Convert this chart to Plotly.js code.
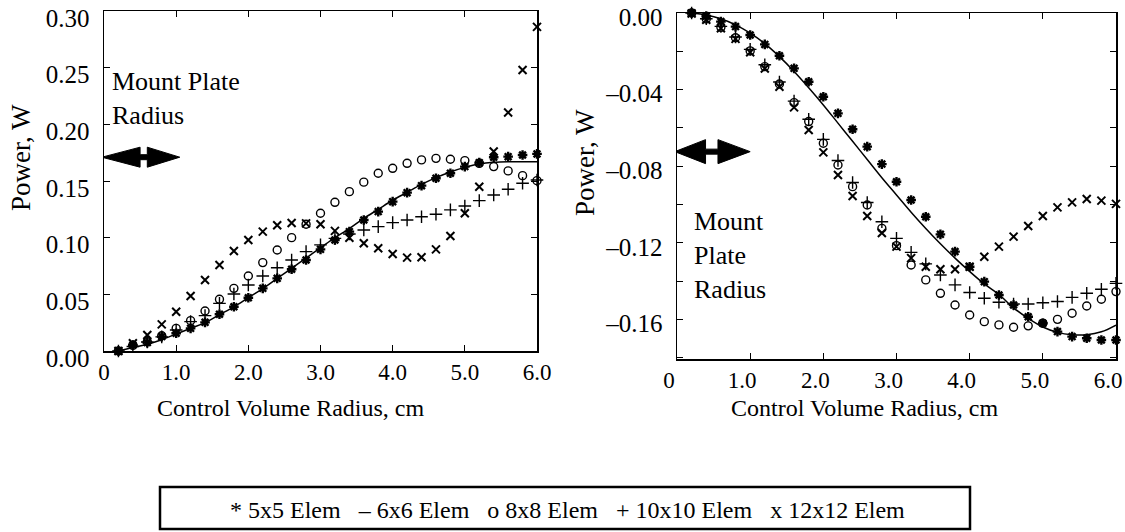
<!DOCTYPE html>
<html>
<head>
<meta charset="utf-8">
<script src="https://cdn.plot.ly/plotly-3.0.1.min.js"></script>
<style>html,body{margin:0;padding:0;background:#fff;}#chart{width:1125px;height:532px;}</style>
</head>
<body>
<div id="chart"></div>
<script>
// ---- data ----
const radius = [0.2,0.4,0.6,0.8,1.0,1.2,1.4,1.6,1.8,2.0,2.2,2.4,2.6,2.8,3.0,3.2,3.4,3.6,3.8,4.0,4.2,4.4,4.6,4.8,5.0,5.2,5.4,5.6,5.8,6.0];
const seriesNames = ['5x5 Elem','6x6 Elem','8x8 Elem','10x10 Elem','12x12 Elem'];
const legendGlyphs = ['*','\u2013','o','+','x'];

// left panel (positive power)
const left5  = [0.000,0.0053,0.0074,0.0127,0.0156,0.0200,0.0253,0.0324,0.0391,0.0470,0.0553,0.0641,0.0721,0.0803,0.0897,0.0980,0.1053,0.1156,0.1230,0.1318,0.1397,0.1459,0.1524,0.1568,0.1627,0.1662,0.1710,0.1715,0.1730,0.1739];
const left6  = [0.000,0.003,0.006,0.010,0.015,0.020,0.025,0.032,0.039,0.047,0.055,0.064,0.073,0.082,0.091,0.100,0.108,0.117,0.125,0.133,0.140,0.147,0.153,0.158,0.162,0.165,0.1665,0.167,0.167,0.167];
const left8  = [0.000,0.005,0.0082,0.0135,0.020,0.0268,0.0353,0.0456,0.0553,0.0662,0.078,0.0891,0.100,0.1118,0.1215,0.1312,0.1406,0.1490,0.1568,0.1612,0.1656,0.1686,0.170,0.1692,0.168,0.1656,0.1627,0.1589,0.1547,0.1503];
const left10 = [0.000,0.004,0.008,0.0125,0.0185,0.0259,0.0312,0.042,0.0503,0.0583,0.0662,0.0735,0.0803,0.0877,0.0936,0.0994,0.1033,0.1068,0.1097,0.1133,0.1156,0.1185,0.1206,0.1245,0.128,0.1327,0.1377,0.1427,0.148,0.1509];
const left12 = [0.000,0.0068,0.0141,0.0235,0.0347,0.0485,0.0627,0.0759,0.0883,0.098,0.1053,0.111,0.113,0.1126,0.1118,0.106,0.100,0.095,0.0906,0.0856,0.0824,0.0827,0.0897,0.1015,0.1215,0.145,0.176,0.2104,0.248,0.286];

// right panel (negative power)
const right5  = [0.000,-0.0016,-0.0045,-0.0071,-0.0115,-0.0164,-0.0223,-0.0289,-0.0359,-0.0437,-0.0524,-0.0607,-0.0698,-0.0789,-0.0881,-0.0977,-0.1064,-0.1156,-0.1246,-0.1325,-0.1403,-0.1473,-0.1525,-0.1586,-0.162,-0.1664,-0.169,-0.1699,-0.1708,-0.1708];
const right6  = [0.000,-0.001,-0.003,-0.0062,-0.0105,-0.016,-0.0228,-0.0305,-0.039,-0.048,-0.0575,-0.067,-0.0765,-0.086,-0.095,-0.104,-0.1125,-0.1205,-0.128,-0.135,-0.1415,-0.147,-0.154,-0.1595,-0.164,-0.1668,-0.168,-0.168,-0.1665,-0.163];
const right8  = [0.000,-0.0031,-0.0075,-0.0129,-0.0198,-0.028,-0.0371,-0.0468,-0.0567,-0.068,-0.0794,-0.0907,-0.1003,-0.1125,-0.1215,-0.1316,-0.1394,-0.1464,-0.1525,-0.1577,-0.1612,-0.1629,-0.1641,-0.1634,-0.162,-0.160,-0.1568,-0.153,-0.1495,-0.1455];
const right10 = [0.000,-0.003,-0.007,-0.0125,-0.019,-0.027,-0.036,-0.046,-0.0555,-0.066,-0.077,-0.0885,-0.099,-0.109,-0.1177,-0.125,-0.131,-0.1368,-0.142,-0.146,-0.149,-0.1511,-0.152,-0.152,-0.1513,-0.1507,-0.1485,-0.1464,-0.1443,-0.1412];
const right12 = [-0.0003,-0.0035,-0.008,-0.0135,-0.0205,-0.029,-0.0385,-0.0493,-0.0611,-0.0728,-0.0846,-0.0956,-0.106,-0.1149,-0.122,-0.128,-0.1325,-0.1338,-0.1338,-0.1325,-0.1273,-0.122,-0.1168,-0.1112,-0.106,-0.1015,-0.0989,-0.0971,-0.098,-0.0997];

// tick labels
const xTickVals = [0,1,2,3,4,5,6];
const xTickText = ['0','1.0','2.0','3.0','4.0','5.0','6.0'];
const yLeftTickVals = [0,0.05,0.10,0.15,0.20,0.25,0.30];
const yLeftTickText = ['0.00','0.05','0.10','0.15','0.20','0.25','0.30'];
const yRightTickVals = [0,-0.04,-0.08,-0.12,-0.16];
const yRightTickText = ['0.00','\u20130.04','\u20130.08','\u20130.12','\u20130.16'];

const mountPlateRadius = 1.0;   // cm, arrow extent
const arrowLeftY = 0.171;
const arrowRightY = -0.0724;

// ---- styling ----
const FONT = '"Liberation Serif", "Times New Roman", serif';
const markerStyles = [
  {symbol:'asterisk-open', size:8, color:'black', line:{color:'black', width:2.4}},
  null,
  {symbol:'circle-open', size:8, color:'black', line:{color:'black', width:1.4}},
  {symbol:'cross-thin-open', size:9, color:'black', line:{color:'black', width:1.4}},
  {symbol:'x-thin-open', size:8, color:'black', line:{color:'black', width:2}}
];

function makeTraces(ys, xa, ya) {
  return ys.map((y, i) => {
    const t = {x: radius, y: y, xaxis: xa, yaxis: ya, name: seriesNames[i], showlegend:false, cliponaxis:false, hoverinfo:'skip'};
    if (i === 1) { t.mode = 'lines'; t.line = {color:'black', width:1.5, shape:'spline'}; }
    else { t.mode = 'markers'; t.marker = markerStyles[i]; }
    return t;
  });
}
const order = [1,0,2,3,4];
const leftSets = [left5,left6,left8,left10,left12];
const rightSets = [right5,right6,right8,right10,right12];
const tL = makeTraces(leftSets,'x','y');
const tR = makeTraces(rightSets,'x2','y2');
const data = order.map(i => tL[i]).concat(order.map(i => tR[i]));

const axCommon = {
  showline:true, linecolor:'black', linewidth:1.5, mirror:'allticks',
  ticks:'inside', ticklen:6, tickwidth:1, tickcolor:'black',
  showgrid:false, zeroline:false, ticklabeloverflow:'allow',
  tickmode:'array', fixedrange:true
};
const xTickFont = {family:FONT, size:23, color:'black'};
const yTickFont = {family:FONT, size:25, color:'black'};

function arrowPath(x0, x1, b0, b1, h, s) {
  return `M ${x0},0 L ${b0},${h} L ${b0},${s} L ${b1},${s} L ${b1},${h} L ${x1},0 L ${b1},${-h} L ${b1},${-s} L ${b0},${-s} L ${b0},${-h} Z`;
}

const layout = {
  width:1125, height:532,
  margin:{l:0, r:0, t:0, b:0},
  paper_bgcolor:'white', plot_bgcolor:'white',
  font:{family:FONT, color:'black'},
  showlegend:false,
  xaxis: Object.assign({}, axCommon, {domain:[104/1125, 537/1125], range:[0,6.0], tickvals:xTickVals, ticktext:xTickText, anchor:'y', tickfont:xTickFont}),
  yaxis: Object.assign({}, axCommon, {domain:[1-351/532, 1-11/532], range:[0,0.30], tickvals:yLeftTickVals, ticktext:yLeftTickText, anchor:'x', tickfont:yTickFont, ticklabelshift:7, ticklabelstandoff:8}),
  xaxis2: Object.assign({}, axCommon, {domain:[677/1125, 1116/1125], range:[0,6.0], tickvals:xTickVals, ticktext:xTickText, anchor:'y2', tickfont:xTickFont, ticklabelshift:-8}),
  yaxis2: Object.assign({}, axCommon, {domain:[1-359/532, 1-13/532], range:[-0.1807,0], tickvals:yRightTickVals, ticktext:yRightTickText, anchor:'x2', tickfont:yTickFont, ticklabelshift:4, ticklabelstandoff:8,
    minor:{tickmode:'linear', tick0:0, dtick:0.02, ticks:'inside', ticklen:6, tickcolor:'black', tickwidth:1}}),
  shapes: [
    {type:'path', xref:'x', yref:'y', ysizemode:'pixel', yanchor:arrowLeftY,
     path: arrowPath(-0.03, mountPlateRadius*1.05, 0.5, 0.6, 10, 2.5), fillcolor:'black', line:{color:'black', width:1}},
    {type:'path', xref:'x2', yref:'y2', ysizemode:'pixel', yanchor:arrowRightY,
     path: arrowPath(-0.03, mountPlateRadius*1.0, 0.39, 0.56, 12, 2.5), fillcolor:'black', line:{color:'black', width:1}},
    {type:'rect', xref:'paper', yref:'paper', x0:160/1125, x1:970/1125, y0:1-529/532, y1:1-487/532,
     line:{color:'black', width:2.5}, fillcolor:'rgba(0,0,0,0)'}
  ],
  annotations: [
    {xref:'paper', yref:'paper', x:110/1125, y:1-99/532, xanchor:'left', yanchor:'middle', align:'left', showarrow:false,
     text:'Mount Plate<br>Radius', font:{family:FONT, size:26, color:'black'}},
    {xref:'paper', yref:'paper', x:692/1125, y:1-255/532, xanchor:'left', yanchor:'middle', align:'left', showarrow:false,
     text:'Mount<br>Plate<br>Radius', font:{family:FONT, size:26, color:'black'}},
    {xref:'paper', yref:'paper', x:21/1125, y:1-158/532, xanchor:'center', yanchor:'middle', textangle:-90, showarrow:false,
     text:'Power, W', font:{family:FONT, size:27, color:'black'}},
    {xref:'paper', yref:'paper', x:585/1125, y:1-163/532, xanchor:'center', yanchor:'middle', textangle:-90, showarrow:false,
     text:'Power, W', font:{family:FONT, size:27, color:'black'}},
    {xref:'paper', yref:'paper', x:290/1125, y:1-408/532, xanchor:'center', yanchor:'middle', showarrow:false,
     text:'Control Volume Radius, cm', font:{family:FONT, size:24, color:'black'}},
    {xref:'paper', yref:'paper', x:864/1125, y:1-408/532, xanchor:'center', yanchor:'middle', showarrow:false,
     text:'Control Volume Radius, cm', font:{family:FONT, size:24, color:'black'}},
    {xref:'paper', yref:'paper', x:228/1125, y:1-510/532, xanchor:'left', yanchor:'middle', showarrow:false,
     text: legendGlyphs.map((g,i) => g + ' ' + seriesNames[i]).join('&nbsp;&nbsp;&nbsp;'),
     font:{family:FONT, size:24, color:'black'}}
  ]
};

Plotly.newPlot('chart', data, layout, {staticPlot:true, displayModeBar:false});
</script>
</body>
</html>
